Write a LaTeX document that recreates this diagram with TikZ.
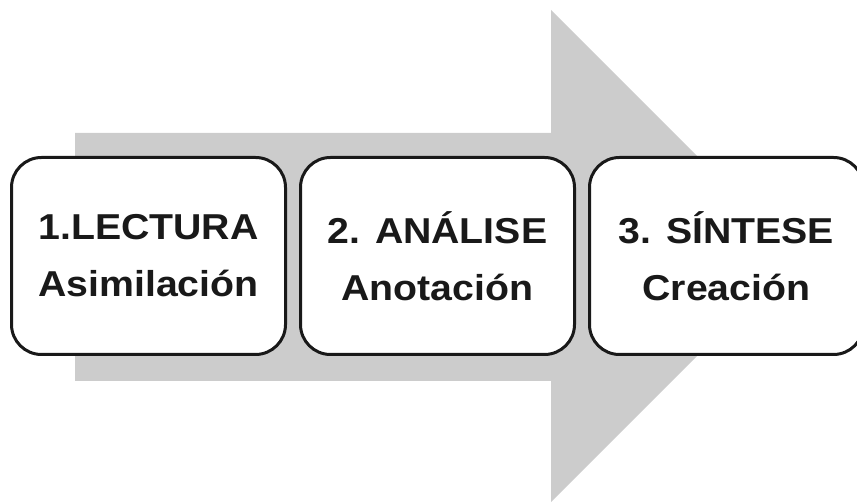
\documentclass[tikz,border=0pt]{standalone}
\usepackage{fontspec}
\setmainfont{Liberation Sans}[FakeStretch=1.09]
\usetikzlibrary{positioning}

\begin{document}
\begin{tikzpicture}[
            x=1pt, y=1pt,
            stage/.style={rectangle, draw=black!90, line width=3pt, fill=white, minimum width=274pt, minimum height=197pt, rounded corners=30pt, align=center, text=black!90, font=\fontsize{36}{57}\selectfont\bfseries},
            bigarrow/.style={fill=black!20}
        ]
        \useasboundingbox (0,0) rectangle (857,502);
        \clip (0,0) rectangle (857,502);

        % Seta de fundo
        \fill[bigarrow] (75,121) -- (551,121) -- (551,0) -- (797,246) -- (551,492) -- (551,369) -- (75,369) -- cycle;

        % Etapas
        \node[stage] (lectura) at (148.5,246) {1.LECTURA\\Asimilación};
        \node[stage, right=12pt of lectura] (analise) {2. ANÁLISE\\Anotación};
        \node[stage, right=12pt of analise] (sintese) {3. SÍNTESE\\Creación};

    \end{tikzpicture}
\end{document}
